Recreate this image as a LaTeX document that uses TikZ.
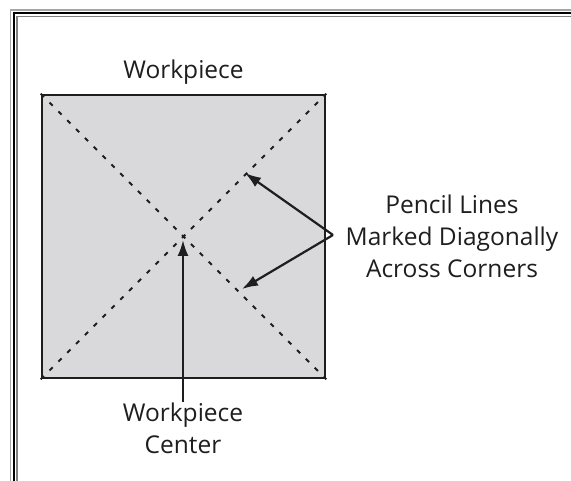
\documentclass[tikz,border=0pt]{standalone}
\usepackage{fontspec}
\setmainfont{Open Sans}
\usetikzlibrary{arrows.meta}
\definecolor{piecefill}{HTML}{D9D9DB}
\definecolor{ink}{HTML}{1E1E1E}
\begin{document}
\begin{tikzpicture}[x=1pt,y=-1pt,
  lbl/.style={font=\fontsize{24.5}{32}\selectfont, text=ink, align=center, inner sep=0pt},
  diag/.style={draw=ink, line width=2pt, dash pattern=on 4.5pt off 8pt},
  arr/.style={draw=ink, line width=2.2pt, -{Latex[length=16pt,width=11pt]}},
  piece/.style={draw=ink, line width=2.6pt, fill=piecefill, minimum width=283pt, minimum height=283pt, inner sep=0pt}]
\useasboundingbox (0,0) rectangle (571,481);
% frame
\draw[gray!70, line width=1.3pt] (10.5,500) -- (10.5,10) -- (600,10);
\draw[black, line width=1.6pt] (13.8,500) -- (13.8,13.3) -- (600,13.3);
\draw[gray, line width=1.3pt] (17,500) -- (17,16.5) -- (600,16.5);
% workpiece
\node[piece] (wp) at (183.5,236.5) {};
\draw[diag] (wp.north west) -- (wp.south east);
\draw[diag] (wp.south west) -- (wp.north east);
\node[lbl] (wlabel) at (183.5,72) {Workpiece};
\node[lbl] (clabel) at (183,428) {Workpiece\\Center};
\node[lbl] (plabel) at (452,236) {Pencil Lines\\Marked Diagonally\\Across Corners};
\coordinate (cbot) at (183,402);
\coordinate (ctip) at (183,240);
\coordinate (v) at (333,235);
\coordinate (t1) at (245,173);
\coordinate (t2) at (242,289);
\draw[arr] (cbot) -- (ctip);
\draw[arr] (v) -- (t1);
\draw[arr] (v) -- (t2);
\end{tikzpicture}
\end{document}
